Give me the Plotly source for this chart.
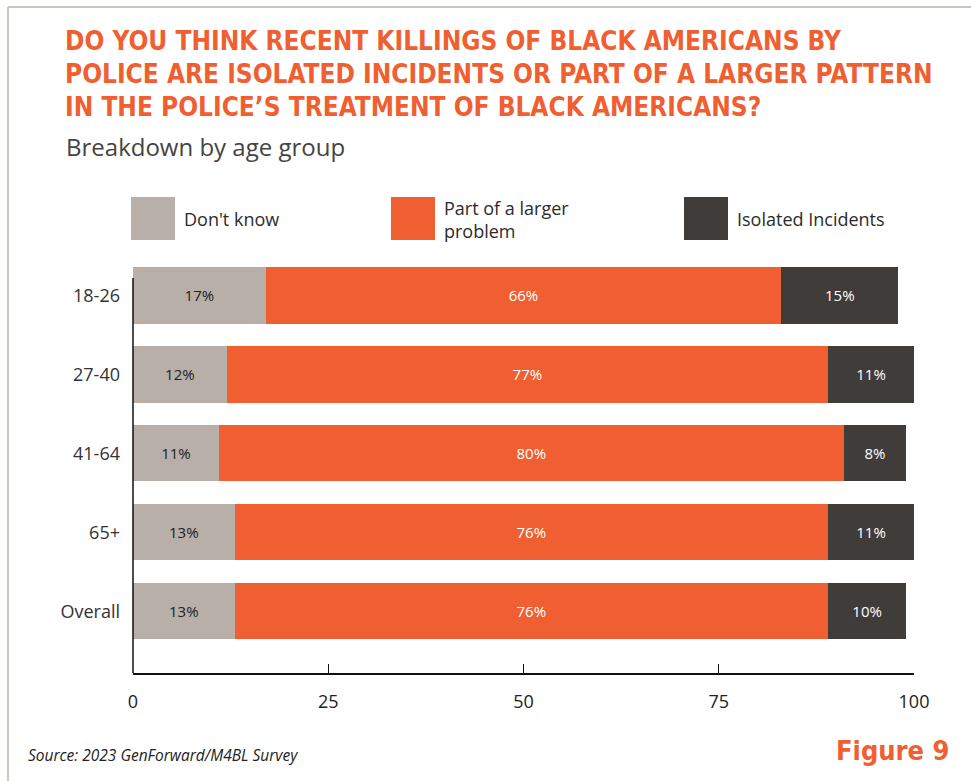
import plotly.graph_objects as go

# Survey results, percent of respondents per age group
groups = ["18-26", "27-40", "41-64", "65+", "Overall"]
dont_know = [17, 12, 11, 13, 13]
larger_problem = [66, 77, 80, 76, 76]
isolated = [15, 11, 8, 11, 10]

series_names = ["Don't know", "Part of a larger<br>problem", "Isolated Incidents"]
series_colors = ["#B7AFA8", "#F05F31", "#403C39"]
label_colors = ["#222222", "#FFFFFF", "#FFFFFF"]
x_ticks = [0, 25, 50, 75, 100]

W, H = 971, 781
L, R, T, B = 133, 57, 256, 108
plot_w = W - L - R
plot_h = H - T - B

HEAD_FONT = "DejaVu Sans Condensed, DejaVu Sans"
BODY_FONT = "Open Sans"


def px_x(px):
    return (px - L) / plot_w


def px_y(py):
    return (H - B - py) / plot_h


fig = go.Figure()
for vals, color, tcolor in zip([dont_know, larger_problem, isolated], series_colors, label_colors):
    fig.add_trace(go.Bar(
        y=groups, x=vals, orientation="h",
        marker=dict(color=color, line=dict(width=0)),
        text=[f"{v}%" for v in vals],
        textposition="inside", insidetextanchor="middle",
        textangle=0, constraintext="none",
        textfont=dict(family=BODY_FONT, size=15, color=tcolor),
        showlegend=False, hoverinfo="skip",
    ))

shapes = []
# Frame around the figure (top and left edges)
shapes.append(dict(type="line", xref="paper", yref="paper", x0=px_x(8), x1=px_x(980),
                   y0=px_y(7), y1=px_y(7), line=dict(color="#CBC5BF", width=2)))
shapes.append(dict(type="line", xref="paper", yref="paper", x0=px_x(8), x1=px_x(8),
                   y0=px_y(7), y1=px_y(790), line=dict(color="#CBC5BF", width=2)))
# Vertical axis line
shapes.append(dict(type="line", xref="paper", yref="paper", x0=0, x1=0,
                   y0=0, y1=px_y(278), line=dict(color="#111111", width=1.5)))

annotations = []
# Legend swatches and labels
legend_x = [131, 391, 684]
for name, color, lx in zip(series_names, series_colors, legend_x):
    shapes.append(dict(type="rect", xref="paper", yref="paper",
                       x0=px_x(lx), x1=px_x(lx + 44), y0=px_y(240), y1=px_y(197),
                       fillcolor=color, line=dict(width=0)))
    annotations.append(dict(xref="paper", yref="paper", x=px_x(lx + 51), y=px_y(219),
                            text=name, showarrow=False, xanchor="left", yanchor="middle",
                            align="left",
                            font=dict(family=BODY_FONT, size=18, color="#2B2B2B")))

title_lines = [
    "DO YOU THINK RECENT KILLINGS OF BLACK AMERICANS BY",
    "POLICE ARE ISOLATED INCIDENTS OR PART OF A LARGER PATTERN",
    "IN THE POLICE\u2019S TREATMENT OF BLACK AMERICANS?",
]
for i, line in enumerate(title_lines):
    annotations.append(dict(xref="paper", yref="paper", x=px_x(63), y=px_y(41 + 33 * i),
                            text=f"<b>{line}</b>", showarrow=False, xanchor="left",
                            yanchor="middle",
                            font=dict(family=HEAD_FONT, size=26, color="#F05F31")))

annotations.append(dict(xref="paper", yref="paper", x=px_x(64), y=px_y(146),
                        text="Breakdown by age group", showarrow=False, xanchor="left",
                        yanchor="middle",
                        font=dict(family=BODY_FONT, size=24, color="#444444")))
annotations.append(dict(xref="paper", yref="paper", x=px_x(26), y=px_y(755),
                        text="<i>Source: 2023 GenForward/M4BL Survey</i>", showarrow=False,
                        xanchor="left", yanchor="middle",
                        font=dict(family=BODY_FONT, size=15.5, color="#222222")))
annotations.append(dict(xref="paper", yref="paper", x=px_x(951), y=px_y(750),
                        text="<b>Figure 9</b>", showarrow=False, xanchor="right",
                        yanchor="middle",
                        font=dict(family=HEAD_FONT, size=27, color="#F05F31")))

fig.update_layout(
    width=W, height=H,
    margin=dict(l=L, r=R, t=T, b=B, pad=0),
    barmode="stack", bargap=0.29,
    plot_bgcolor="white", paper_bgcolor="white",
    shapes=shapes, annotations=annotations,
    xaxis=dict(range=[0, 100], tickvals=x_ticks, showgrid=False, zeroline=False,
               showline=True, linecolor="#111111", linewidth=1.5,
               ticks="inside", ticklen=9, tickcolor="#111111", tickwidth=1,
               ticklabelstandoff=12,
               tickfont=dict(family=BODY_FONT, size=18, color="#222222")),
    yaxis=dict(categoryorder="array", categoryarray=groups, range=[4.78, -0.5],
               showgrid=False, zeroline=False, showline=False, ticks="",
               ticklabelstandoff=12,
               tickfont=dict(family=BODY_FONT, size=18, color="#333333")),
    uniformtext=dict(mode=False),
)

fig.write_html("out.html")
